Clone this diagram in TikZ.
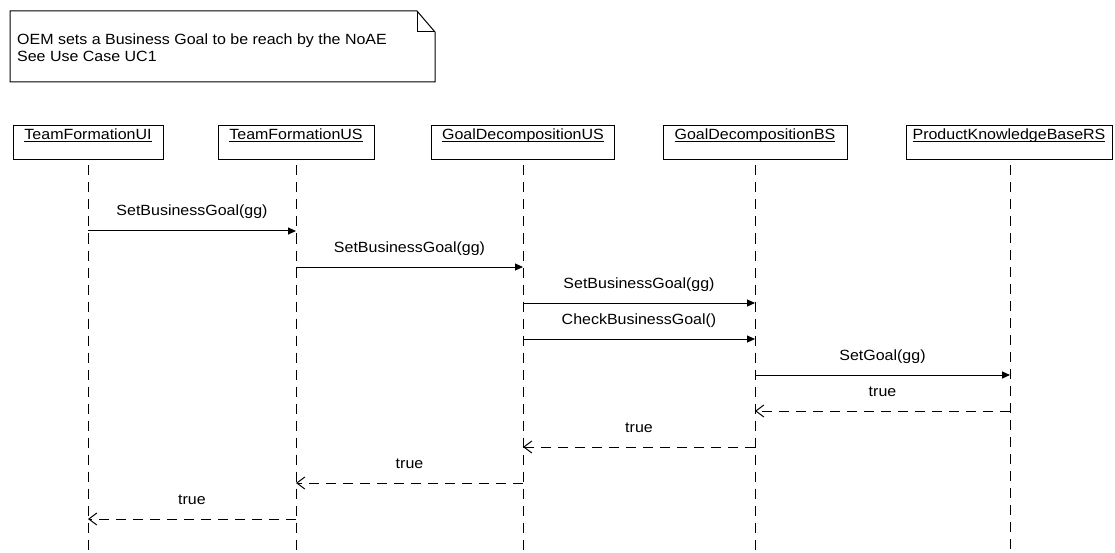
\documentclass[tikz,border=0pt]{standalone}
\usepackage{fontspec}
\setmainfont{Liberation Sans}[FakeStretch=1.08]
\usetikzlibrary{arrows.meta}
% underlined object name with a fixed rule just below the baseline
\newcommand{\objname}[1]{\setbox0\hbox{#1}\rlap{\rule[-2.5pt]{\wd0}{0.9pt}}\box0}
\begin{document}
\begin{tikzpicture}[x=1pt,y=-1pt,
  every node/.style={font=\fontsize{14.8}{17}\selectfont, text=black},
  head/.style={draw, line width=1pt, minimum height=34pt, inner sep=0pt,
               text height=11pt, text depth=18pt},
  life/.style={line width=1pt, dash pattern=on 10pt off 7pt, dash phase=12pt},
  call/.style={line width=1pt, -{Triangle[length=8pt,width=7pt]}},
  reply/.style={line width=1pt, dash pattern=on 10pt off 7pt,
                -{Straight Barb[length=8pt,width=12pt,line width=1pt]}},
  msg/.style={midway, anchor=base, yshift=15pt, inner sep=0pt},
  notebox/.style={line width=1pt}
]
\useasboundingbox (0,0) rectangle (1115,553);

% note with folded corner
\draw[notebox] (10,11) -- (417,11) -- (435,32) -- (435,82) -- (10,82) -- cycle;
\draw[notebox] (417,11) -- (417,32) -- (435,32);
\node[anchor=base west, inner sep=0pt] (note1) at (17,45) {OEM sets a Business Goal to be reach by the NoAE};
\node[anchor=base west, inner sep=0pt] (note2) at (17,61.5) {See Use Case UC1};

% object heads
\node[head, minimum width=150pt] (ui)  at (88,143)   {\objname{TeamFormationUI}};
\node[head, minimum width=156pt] (us)  at (296,143)  {\objname{TeamFormationUS}};
\node[head, minimum width=183pt] (gus) at (523,143)  {\objname{GoalDecompositionUS}};
\node[head, minimum width=184pt] (gbs) at (755,143)  {\objname{GoalDecompositionBS}};
\node[head, minimum width=206pt] (pkb) at (1009,143) {\objname{ProductKnowledgeBaseRS}};

% lifelines
\coordinate (bot) at (0,553);
\foreach \o in {ui,us,gus,gbs}
  \draw[life] (\o.south) -- (\o.south |- bot);
\coordinate (pkbtop) at (1010,160);
\draw[life] (pkbtop) -- (pkbtop |- bot);

% message rows
\coordinate (r1) at (0,231);
\coordinate (r2) at (0,267);
\coordinate (r3) at (0,303);
\coordinate (r4) at (0,339);
\coordinate (r5) at (0,375);
\coordinate (r6) at (0,411);
\coordinate (r7) at (0,447);
\coordinate (r8) at (0,483);
\coordinate (r9) at (0,519);

% calls
\draw[call] (ui |- r1) -- node[msg] {SetBusinessGoal(gg)} (us |- r1);
\draw[call] (us |- r2) -- node[msg] {SetBusinessGoal(gg)} (gus |- r2);
\draw[call] (gus |- r3) -- node[msg] {SetBusinessGoal(gg)} (gbs |- r3);
\draw[call] (gus |- r4) -- node[msg] {CheckBusinessGoal()} (gbs |- r4);
\draw[call] (gbs |- r5) -- node[msg] {SetGoal(gg)} (pkbtop |- r5);

% replies
\draw[reply] (pkbtop |- r6) -- node[msg] {true} (gbs |- r6);
\draw[reply] (gbs |- r7) -- node[msg] {true} (gus |- r7);
\draw[reply] (gus |- r8) -- node[msg] {true} (us |- r8);
\draw[reply] (us |- r9) -- node[msg] {true} (ui |- r9);
\end{tikzpicture}
\end{document}
